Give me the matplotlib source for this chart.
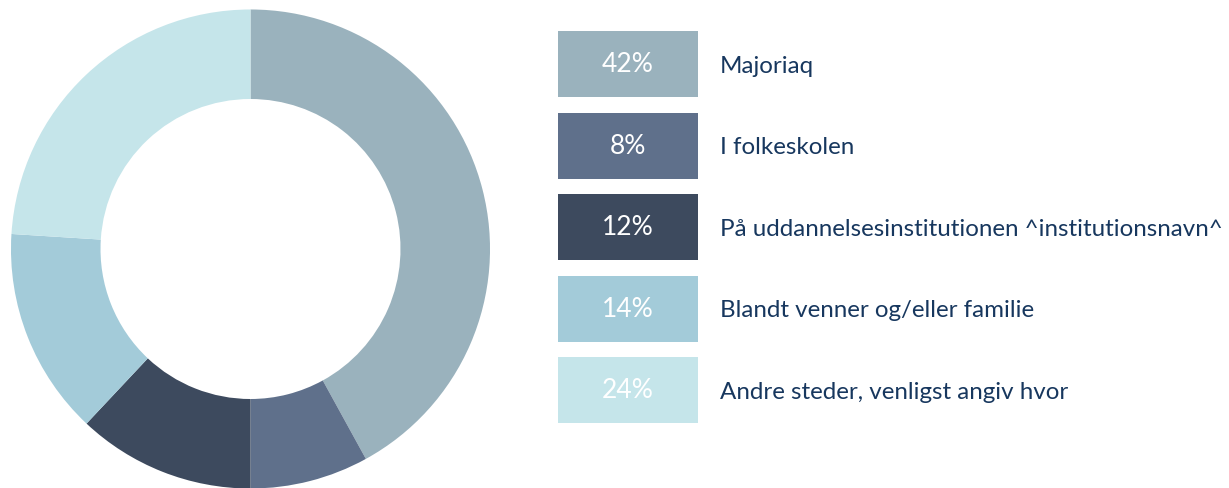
import matplotlib
matplotlib.use("Agg")
import matplotlib.pyplot as plt
from matplotlib.patches import Rectangle

categories = ["Majoriaq", "I folkeskolen", "På uddannelsesinstitutionen ^institutionsnavn^",
              "Blandt venner og/eller familie", "Andre steder, venligst angiv hvor"]
values = [42, 8, 12, 14, 24]
colors = ["#9AB2BD", "#5F708B", "#3D4A5E", "#A3CBD9", "#C5E5EA"]
text_color = "#17375E"

W, H = 1229, 489
fig = plt.figure(figsize=(W / 100, H / 100), dpi=100)
fig.patch.set_facecolor("white")

# donut
cx, cy, R = 250.5, 250, 240
ax = fig.add_axes([(cx - R) / W, (H - cy - R) / H, 2 * R / W, 2 * R / H])
ax.pie(values, colors=colors, startangle=90, counterclock=False, radius=0.998,
       wedgeprops=dict(width=0.998 - 150 / 240, linewidth=0))
ax.set_xlim(-1, 1)
ax.set_ylim(-1, 1)
ax.set_aspect("equal")
ax.axis("off")

# legend boxes
bx, bw, bh = 558, 140, 66
tops = [32, 113.5, 195, 276.5, 358]
for i, (cat, v, c) in enumerate(zip(categories, values, colors)):
    t = tops[i]
    fig.patches.append(Rectangle((bx / W, (H - t - bh) / H), bw / W, bh / H,
                                 transform=fig.transFigure, facecolor=c, edgecolor="none"))
    yc = (H - t - bh / 2) / H
    fig.text((bx + bw / 2) / W, yc, f"{v}%", color="white", fontsize=19,
             ha="center", va="center", family="Lato")
    fig.text(720 / W, yc - 1.5 / H, cat, color=text_color, fontsize=17.4,
             ha="left", va="center", family="Lato")

fig.savefig("out.png", dpi=100, facecolor="white")
